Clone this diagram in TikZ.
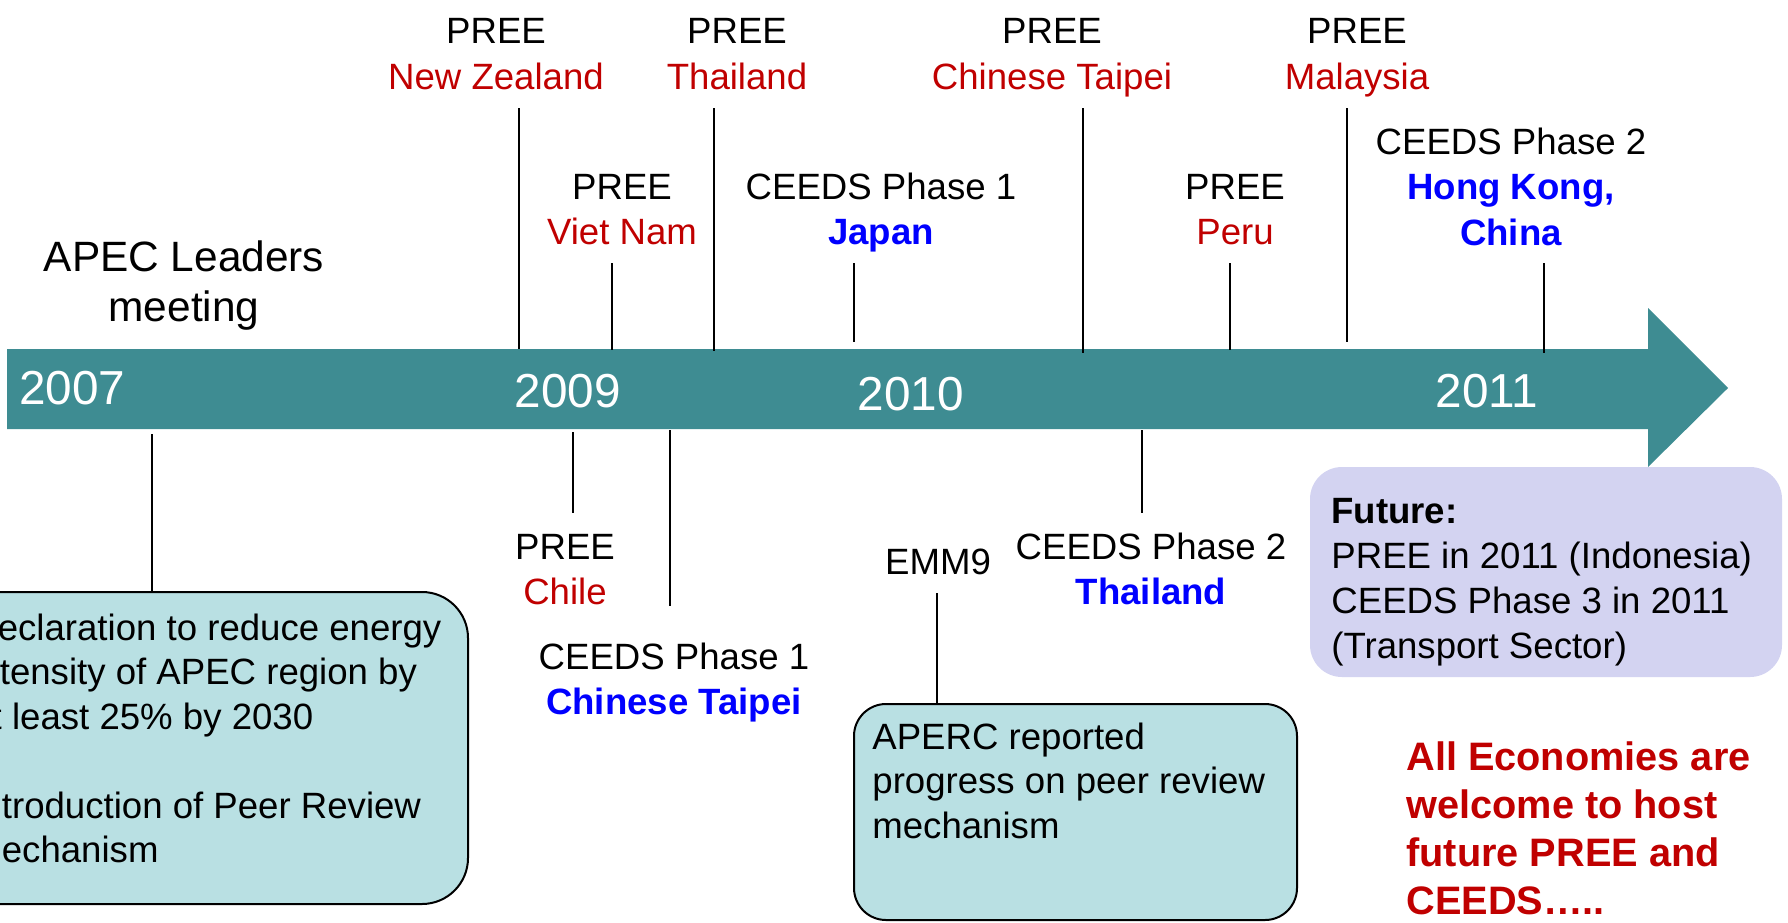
\documentclass[tikz,border=0pt]{standalone}
\usepackage{fontspec}
\setmainfont{Liberation Sans}
\definecolor{bandcol}{RGB}{62,140,146}
\definecolor{boxfill}{RGB}{185,224,227}
\definecolor{futfill}{RGB}{211,211,241}
\definecolor{pred}{RGB}{192,0,0}
\definecolor{pblue}{RGB}{0,0,255}
\newcommand{\rd}[1]{\textcolor{pred}{#1}}
\newcommand{\bl}[1]{\textcolor{pblue}{\bfseries #1}}
\newcommand{\ctab}[1]{\begin{tabular}[t]{@{}c@{}}#1\end{tabular}}
\newcommand{\ltab}[1]{\begin{tabular}[t]{@{}l@{}}#1\end{tabular}}
\tikzset{
  lbl/.style={inner sep=0pt, anchor=base, font=\fontsize{18.3}{22.75}\selectfont},
  yr/.style={inner sep=0pt, anchor=base, text=white, font=\fontsize{23.85}{28}\selectfont},
  tick/.style={line width=0.8pt, draw=black},
  infobox/.style={draw=black, line width=1pt, fill=boxfill, inner sep=0pt},
  futbox/.style={fill=futfill, rounded corners=16pt, inner sep=0pt},
  body/.style={inner sep=0pt, anchor=base west, font=\fontsize{18.3}{22.25}\selectfont},
}
\begin{document}
\begin{tikzpicture}[x=0.5pt, y=-0.5pt]
\useasboundingbox (0,0) rectangle (1788,922);
% timeline band
\fill[bandcol] (7,349) -- (1648,349) -- (1648,308) -- (1728,388) -- (1648,467) -- (1648,429) -- (7,429) -- cycle;
% years
\node[yr, anchor=base west] (y2007) at (19,404) {2007};
\node[yr] (y2009) at (568,407) {2009};
\node[yr] (y2010) at (911,410) {2010};
\node[yr] (y2011) at (1487,407) {2011};
% boxes
\node[infobox, rounded corners=23pt, minimum width=264pt, minimum height=156pt] (decl) at (204,748) {};
\node[infobox, rounded corners=16pt, minimum width=221.5pt, minimum height=108pt] (aperc) at (1075.5,812) {};
\node[futbox, minimum width=236pt, minimum height=105pt] (future) at (1546,572) {};
% top labels
\node[lbl, font=\fontsize{21.2}{25}\selectfont] (apec) at (184,271) {\ctab{APEC Leaders\\meeting}};
\node[lbl] (nz) at (496,43.5) {\ctab{PREE\\\rd{New Zealand}}};
\node[lbl] (th) at (737,43.5) {\ctab{PREE\\\rd{Thailand}}};
\node[lbl] (ct) at (1052,43.5) {\ctab{PREE\\\rd{Chinese Taipei}}};
\node[lbl] (my) at (1357,43.5) {\ctab{PREE\\\rd{Malaysia}}};
\node[lbl] (vn) at (622,199) {\ctab{PREE\\\rd{Viet Nam}}};
\node[lbl] (jp) at (881,199) {\ctab{CEEDS Phase 1\\\bl{Japan}}};
\node[lbl] (pe) at (1235,199) {\ctab{PREE\\\rd{Peru}}};
\node[lbl] (hk) at (1511,154) {\ctab{CEEDS Phase 2\\\bl{Hong Kong,}\\\bl{China}}};
% bottom labels
\node[lbl] (cl) at (565,559) {\ctab{PREE\\\rd{Chile}}};
\node[lbl] (c1) at (674,669) {\ctab{CEEDS Phase 1\\\bl{Chinese Taipei}}};
\node[lbl] (em) at (938,574) {EMM9};
\node[lbl] (c2) at (1151,559) {\ctab{CEEDS Phase 2\\\bl{Thailand}}};
% box texts
\node[body] (decltext) at (-29,640) {\ltab{Declaration to reduce energy\\intensity of APEC region by\\at least 25\% by 2030\\ \mbox{}\\Introduction of Peer Review\\mechanism}};
\node[body] (apercText) at (872,749) {\ltab{APERC reported\\progress on peer review\\mechanism}};
\node[body, font=\fontsize{18.3}{22.5}\selectfont] (futtext) at (1331,523) {\ltab{\textbf{Future:}\\PREE in 2011 (Indonesia)\\CEEDS Phase 3 in 2011\\(Transport Sector)}};
\node[body, font=\fontsize{19.85}{24}\selectfont\bfseries, text=pred] (allecon) at (1406,770) {\ltab{All Economies are\\welcome to host\\future PREE and\\CEEDS\ldots..}};
% tick coordinates
\coordinate (nzA) at (519,108); \coordinate (nzB) at (519,349);
\coordinate (vnA) at (612,263); \coordinate (vnB) at (612,350);
\coordinate (thA) at (714,108); \coordinate (thB) at (714,351);
\coordinate (jpA) at (854,263); \coordinate (jpB) at (854,342);
\coordinate (ctA) at (1083,108); \coordinate (ctB) at (1083,353);
\coordinate (peA) at (1230,263); \coordinate (peB) at (1230,350);
\coordinate (myA) at (1347,108); \coordinate (myB) at (1347,342);
\coordinate (hkA) at (1544,263); \coordinate (hkB) at (1544,353);
\coordinate (apA) at (152,434); \coordinate (apB) at (152,592);
\coordinate (clA) at (573,432); \coordinate (clB) at (573,513);
\coordinate (c1A) at (670,430); \coordinate (c1B) at (670,606);
\coordinate (c2A) at (1142,430); \coordinate (c2B) at (1142,513);
\coordinate (emA) at (937,593); \coordinate (emB) at (937,703);
\foreach \t in {nz,vn,th,jp,ct,pe,my,hk,ap,cl,c1,c2,em}
  \draw[tick] (\t A) -- (\t B);
\end{tikzpicture}
\end{document}
